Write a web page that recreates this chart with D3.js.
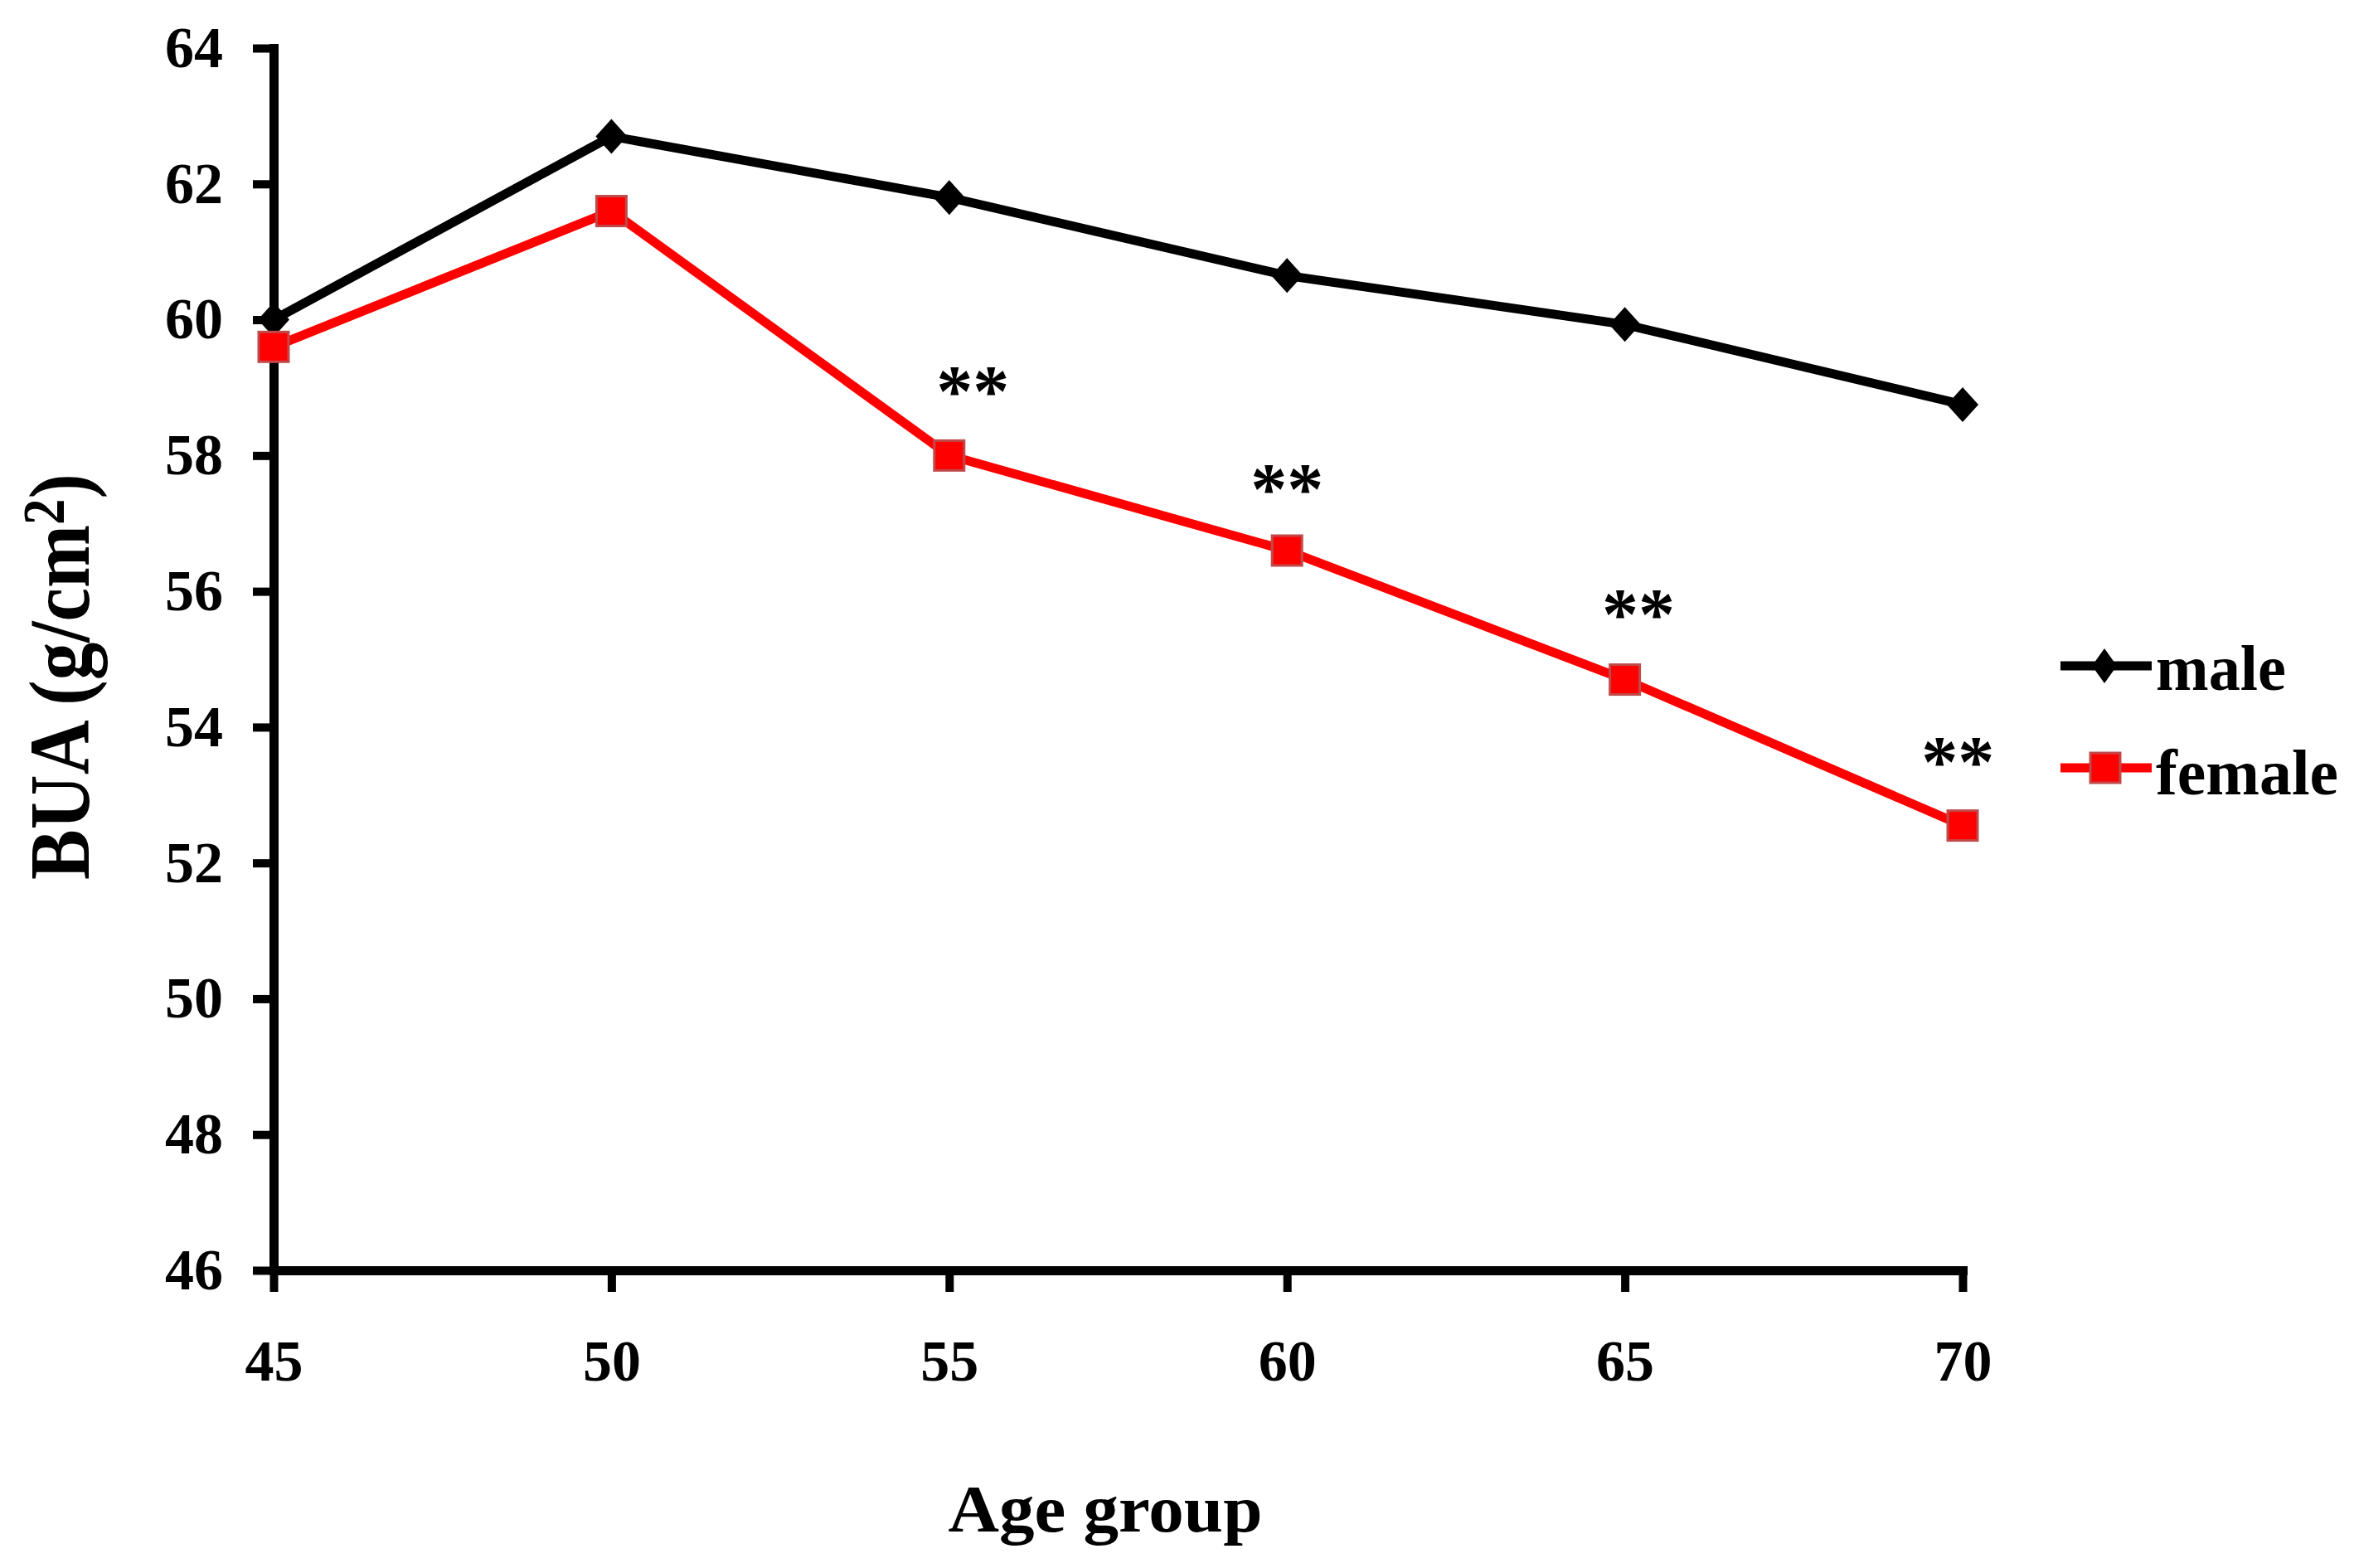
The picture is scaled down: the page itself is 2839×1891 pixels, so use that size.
<!DOCTYPE html>
<html>
<head>
<meta charset="utf-8">
<script src="https://cdn.jsdelivr.net/npm/d3@7"></script>
<style>
  html, body { margin: 0; padding: 0; background: #fff; }
  text { font-family: 'Liberation Serif', 'Times New Roman', serif; font-weight: bold; fill: #000; }
</style>
</head>
<body>
<div id="chart"></div>
<script>
// values
const ages = [ 45, 50, 55, 60, 65, 70 ]
const male = [ 60.0, 62.7, 61.8, 60.65, 59.93, 58.75 ]
const female = [ 59.6, 61.6, 58.0, 56.6, 54.7, 52.55 ]
const yTicks = [ 46, 48, 50, 52, 54, 56, 58, 60, 62, 64 ]
// significance marks, placed in data units
const sigAge = [ 55.35, 60, 65.2, 69.93 ]
const sigBua = [ 59.1, 57.66, 55.82, 53.65 ]
const sigLabel = '**'
const seriesNames = [ 'male', 'female' ]

const width = 2839
const height = 1891

const svg = d3.select('#chart')
  .append('svg')
  .attr('width', width)
  .attr('height', height)

svg.append('rect').attr('width', width).attr('height', height).attr('fill', '#fff')

const x = d3.scaleLinear().domain([ 45, 70 ]).range([ 330, 2367 ])
const y = d3.scaleLinear().domain([ 46, 64 ]).range([ 1532, 58 ])

// axes
svg.append('g')
  .attr('transform', 'translate(' + x(45) + ',0)')
  .call(d3.axisLeft(y).tickValues(yTicks).tickSize(25).tickSizeOuter(0).tickPadding(36).tickFormat(d3.format('d')))

svg.append('g')
  .attr('transform', 'translate(0,' + y(46) + ')')
  .call(d3.axisBottom(x).tickValues(ages).tickSize(26).tickSizeOuter(0).tickPadding(57).tickFormat(d3.format('d')))

svg.selectAll('.domain').attr('stroke', '#000').attr('stroke-width', 11).attr('stroke-linecap', 'square')
svg.selectAll('.tick line').attr('stroke', '#000').attr('stroke-width', 10)
svg.selectAll('.tick text').style('font-size', '70px').attr('fill', '#000')

// axis titles
const yTitle = svg.append('text')
  .attr('transform', 'translate(107,' + 816 + ') rotate(-90)')
  .attr('text-anchor', 'middle')
  .attr('textLength', 490)
  .attr('lengthAdjust', 'spacingAndGlyphs')
  .style('font-size', '104px')
yTitle.append('tspan').text('BUA (g/cm')
yTitle.append('tspan').attr('dy', -30).style('font-size', '72px').text('2')
yTitle.append('tspan').attr('dy', 30).text(')')

svg.append('text')
  .attr('x', 1333)
  .attr('y', 1847)
  .attr('text-anchor', 'middle')
  .attr('textLength', 379)
  .attr('lengthAdjust', 'spacingAndGlyphs')
  .style('font-size', '80px')
  .text('Age group')

function diamond (w, h) {
  return 'M0,' + (-h / 2) + 'L' + (w / 2) + ',0L0,' + (h / 2) + 'L' + (-w / 2) + ',0Z'
}

const line = d3.line()
  .x(function (d, i) { return x(ages[i]) })
  .y(function (d) { return y(d) })

// male series
svg.append('path')
  .datum(male)
  .attr('fill', 'none')
  .attr('stroke', '#000')
  .attr('stroke-width', 11)
  .attr('stroke-linejoin', 'miter')
  .attr('d', line)

svg.selectAll('.male-pt')
  .data(male)
  .enter().append('path')
  .attr('class', 'male-pt')
  .attr('transform', function (d, i) { return 'translate(' + x(ages[i]) + ',' + y(d) + ')' })
  .attr('d', diamond(38, 42))
  .attr('fill', '#000')

// female series
svg.append('path')
  .datum(female)
  .attr('fill', 'none')
  .attr('stroke', '#ff0000')
  .attr('stroke-width', 11)
  .attr('stroke-linejoin', 'miter')
  .attr('d', line)

svg.selectAll('.female-pt')
  .data(female)
  .enter().append('rect')
  .attr('class', 'female-pt')
  .attr('x', function (d, i) { return x(ages[i]) - 18 })
  .attr('y', function (d) { return y(d) - 18 })
  .attr('width', 36)
  .attr('height', 36)
  .attr('fill', '#ff0000')
  .attr('stroke', '#c04a4a')
  .attr('stroke-width', 3)

// significance marks
svg.selectAll('.sig')
  .data(sigAge)
  .enter().append('text')
  .attr('class', 'sig')
  .attr('x', function (d) { return x(d) })
  .attr('y', function (d, i) { return y(sigBua[i]) + 42 })
  .attr('text-anchor', 'middle')
  .style('font-size', '88px')
  .text(sigLabel)

// legend
const legend = svg.append('g').attr('transform', 'translate(2485,0)')
const legendY = [ 803, 926 ]
const legendText = [ { y: 832, len: 157 }, { y: 958, len: 220 } ]

legend.append('line')
  .attr('x1', 0).attr('x2', 110).attr('y1', legendY[0]).attr('y2', legendY[0])
  .attr('stroke', '#000').attr('stroke-width', 11)
legend.append('path')
  .attr('transform', 'translate(53,' + legendY[0] + ')')
  .attr('d', diamond(30, 42))
  .attr('fill', '#000')

legend.append('line')
  .attr('x1', 0).attr('x2', 110).attr('y1', legendY[1]).attr('y2', legendY[1])
  .attr('stroke', '#ff0000').attr('stroke-width', 11)
legend.append('rect')
  .attr('x', 54 - 18).attr('y', legendY[1] - 18)
  .attr('width', 36).attr('height', 36)
  .attr('fill', '#ff0000').attr('stroke', '#c04a4a').attr('stroke-width', 3)

legend.selectAll('.legend-label')
  .data(seriesNames)
  .enter().append('text')
  .attr('class', 'legend-label')
  .attr('x', 115)
  .attr('y', function (d, i) { return legendText[i].y })
  .attr('textLength', function (d, i) { return legendText[i].len })
  .attr('lengthAdjust', 'spacingAndGlyphs')
  .style('font-size', '78px')
  .text(function (d) { return d })
</script>
</body>
</html>
